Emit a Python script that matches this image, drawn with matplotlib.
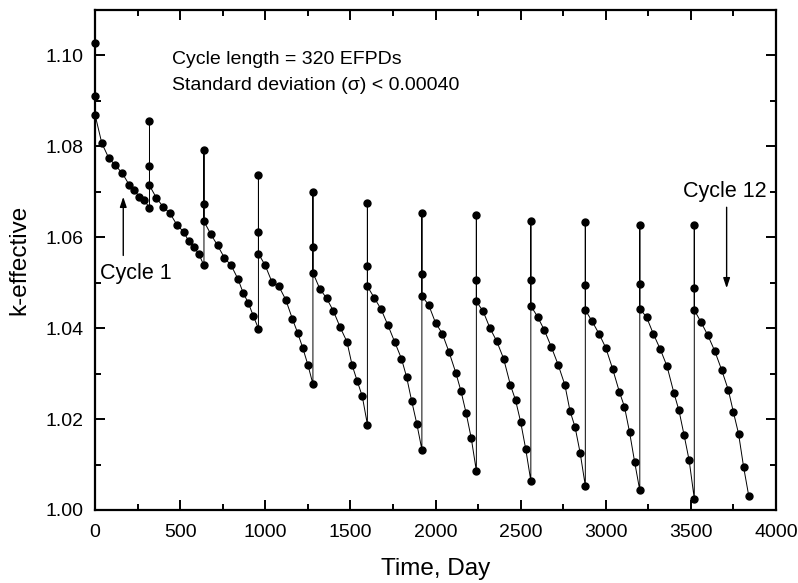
import matplotlib
matplotlib.use("Agg")
import matplotlib.pyplot as plt
from matplotlib.ticker import MultipleLocator, FormatStrFormatter

plt.rcParams['font.family'] = ['Liberation Sans', 'DejaVu Sans']

# ---- data ----
cycle_starts = [0, 320, 640, 960, 1280, 1600, 1920, 2240, 2560, 2880, 3200, 3520]
tail_offsets = [40, 80, 120, 160, 200, 230, 260, 290, 320]

boc_values = [
    [1.1027, 1.0911, 1.0870],
    [1.0856, 1.0757, 1.0714],
    [1.0793, 1.0674, 1.0635],
    [1.0738, 1.0612, 1.0564],
    [1.0700, 1.0578, 1.0522],
    [1.0675, 1.0537, 1.0492],
    [1.0654, 1.0520, 1.0471],
    [1.0648, 1.0505, 1.0459],
    [1.0636, 1.0505, 1.0449],
    [1.0634, 1.0495, 1.0440],
    [1.0628, 1.0497, 1.0443],
    [1.0626, 1.0489, 1.0440],
]
tail_values = [
    [1.0807, 1.0775, 1.0758, 1.0741, 1.0716, 1.0705, 1.0689, 1.0681, 1.0665],
    [1.0687, 1.0667, 1.0653, 1.0628, 1.0612, 1.0592, 1.0579, 1.0563, 1.0538],
    [1.0607, 1.0582, 1.0555, 1.0538, 1.0508, 1.0478, 1.0456, 1.0427, 1.0399],
    [1.0538, 1.0501, 1.0492, 1.0463, 1.0420, 1.0390, 1.0357, 1.0320, 1.0277],
    [1.0487, 1.0466, 1.0438, 1.0402, 1.0370, 1.0319, 1.0284, 1.0250, 1.0188],
    [1.0467, 1.0442, 1.0407, 1.0370, 1.0333, 1.0293, 1.0240, 1.0190, 1.0133],
    [1.0451, 1.0412, 1.0388, 1.0347, 1.0301, 1.0261, 1.0213, 1.0158, 1.0086],
    [1.0437, 1.0400, 1.0371, 1.0333, 1.0275, 1.0242, 1.0194, 1.0134, 1.0064],
    [1.0425, 1.0395, 1.0359, 1.0320, 1.0275, 1.0218, 1.0182, 1.0125, 1.0053],
    [1.0415, 1.0388, 1.0357, 1.0311, 1.0260, 1.0227, 1.0171, 1.0105, 1.0043],
    [1.0424, 1.0387, 1.0354, 1.0316, 1.0258, 1.0219, 1.0165, 1.0109, 1.0025],
    [1.0413, 1.0384, 1.0350, 1.0309, 1.0264, 1.0215, 1.0168, 1.0094, 1.0031],
]

days = []
keff = []
for start, bv, tv in zip(cycle_starts, boc_values, tail_values):
    for v in bv:
        days.append(start)
        keff.append(v)
    for off, v in zip(tail_offsets, tv):
        days.append(start + off)
        keff.append(v)

# ---- figure ----
fig = plt.figure(figsize=(7.98, 5.83), dpi=100)
ax = fig.add_axes([95/798, 1 - 510/583, (776 - 95)/798, (510 - 10)/583])

ax.plot(days, keff, color='black', lw=0.7, marker='o', ms=5,
        mfc='black', mec='black', clip_on=False, zorder=3)

ax.set_xlim(0, 4000)
ax.set_ylim(1.00, 1.11)
ax.xaxis.set_major_locator(MultipleLocator(500))
ax.xaxis.set_minor_locator(MultipleLocator(250))
ax.yaxis.set_major_locator(MultipleLocator(0.02))
ax.yaxis.set_minor_locator(MultipleLocator(0.01))
ax.yaxis.set_major_formatter(FormatStrFormatter('%.2f'))

for s in ax.spines.values():
    s.set_linewidth(1.6)
ax.tick_params(which='both', direction='in', top=True, right=True, width=1.4,
               labelsize=14)
ax.tick_params(which='major', length=7)
ax.tick_params(which='minor', length=4)
ax.tick_params(axis='x', which='major', pad=10)
ax.tick_params(axis='y', which='major', pad=8)

ax.set_xlabel('Time, Day', fontsize=17.5, labelpad=12)
ax.set_ylabel('k-effective', fontsize=17.5, labelpad=11)

ax.text(450, 1.0982, 'Cycle length = 320 EFPDs', fontsize=14, va='baseline')
ax.text(450, 1.0925, 'Standard deviation (σ) < 0.00040', fontsize=14, va='baseline')

ax.text(29, 1.0521, 'Cycle 1', fontsize=15.5, va='center', ha='left')
ax.annotate('', xy=(166, 1.0689), xytext=(166, 1.0560),
            arrowprops=dict(arrowstyle='-|>,head_length=0.6,head_width=0.2',
                            color='black', lw=1.0, shrinkA=0, shrinkB=0,
                            mutation_scale=10))

ax.text(3947, 1.0701, 'Cycle 12', fontsize=15.5, va='center', ha='right')
ax.annotate('', xy=(3710, 1.0488), xytext=(3710, 1.0666),
            arrowprops=dict(arrowstyle='-|>,head_length=0.6,head_width=0.2',
                            color='black', lw=1.0, shrinkA=0, shrinkB=0,
                            mutation_scale=10))

fig.savefig('out.png', dpi=100)
